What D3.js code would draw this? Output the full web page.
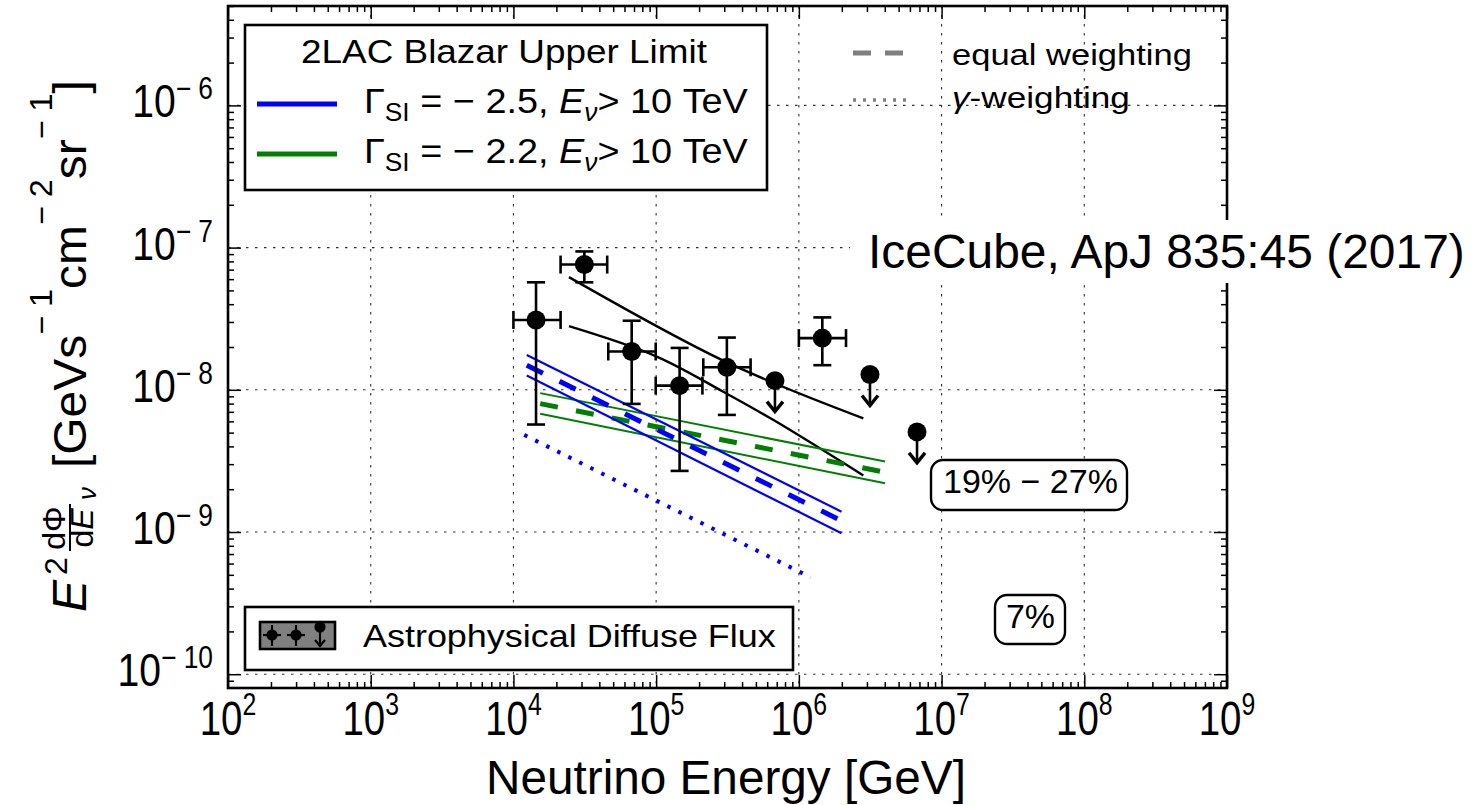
<!DOCTYPE html>
<html>
<head>
<meta charset="utf-8">
<script src="https://cdn.jsdelivr.net/npm/d3@7"></script>
<style>
  body { margin: 0; background: #fff; }
  svg text { font-family: "Liberation Sans", Arial, sans-serif; fill: #000; }
</style>
</head>
<body>
<svg id="chart" width="1477" height="805"></svg>
<script>
// ---- Astrophysical diffuse flux (unfolded bins) ----
const binCenters  = [1.44e4, 3.14e4, 6.74e4, 1.46e5, 3.13e5, 1.46e6];
const binLow      = [1.0e4, 2.14e4, 4.62e4, 9.93e4, 2.14e5, 1.0e6];
const binHigh     = [2.14e4, 4.54e4, 9.93e4, 2.11e5, 4.59e5, 2.14e6];
const fluxValues  = [3.1e-8, 7.6e-8, 1.86e-8, 1.07e-8, 1.44e-8, 2.31e-8];
const fluxErrLow  = [5.7e-9, 5.7e-8, 7.96e-9, 2.69e-9, 6.66e-9, 1.49e-8];
const fluxErrHigh = [5.7e-8, 9.4e-8, 3.06e-8, 1.97e-8, 2.33e-8, 3.23e-8];
const limitEnergies = [6.8e5, 3.15e6, 6.73e6];
const limitFluxes   = [1.16e-8, 1.28e-8, 5.06e-9];

// ---- best-fit power-law band edges ----
const fitBandUpper = [[2.45e4, 6.2e-8], [3.09e5, 1.57e-8], [2.83e6, 6.3e-9]];
const fitBandLower = [[2.45e4, 2.8e-8], [1.0e5, 1.72e-8], [2.95e5, 9.7e-9], [6.6e5, 6.15e-9], [2.83e6, 2.5e-9]];

// ---- 2LAC blazar upper limits, spectral index -2.5 ----
const soft25Energy = [1.24e4, 1.99e6];
const soft25Upper  = [1.76e-8, 1.39e-9];
const soft25Equal  = [1.49e-8, 1.2e-9];
const soft25Lower  = [1.26e-8, 9.8e-10];
const soft25GammaEnergy = [1.19e4, 1.21e6];
const soft25Gamma       = [4.82e-9, 4.8e-10];

// ---- 2LAC blazar upper limits, spectral index -2.2 ----
const hard22Energy = [1.54e4, 4.02e6];
const hard22Upper  = [9.48e-9, 3.13e-9];
const hard22Equal  = [8.0e-9, 2.63e-9];
const hard22Lower  = [6.78e-9, 2.2e-9];

// ---- axis ticks ----
const xTickValues = [1e2, 1e3, 1e4, 1e5, 1e6, 1e7, 1e8, 1e9];
const xTickExps   = ["2", "3", "4", "5", "6", "7", "8", "9"];
const yTickValues = [1e-10, 1e-9, 1e-8, 1e-7, 1e-6];
const yTickExps   = ["10", "9", "8", "7", "6"];

const svg = d3.select("#chart");
const x = d3.scaleLog().domain([1e2, 1e9]).range([228, 1227]);
const y = d3.scaleLog().domain([8e-11, 5e-6]).range([688, 6]);
const [X0, X1] = x.range();
const [Y1, Y0] = y.range();

// squeeze a text element horizontally (about its anchor) to a given width
function fitWidth(sel, width) {
  const w = sel.node().getBBox().width;
  sel.attr("transform", `scale(${width / w},1)`);
}

svg.append("defs").append("clipPath").attr("id", "plot-clip")
  .append("rect").attr("x", X0).attr("y", Y0).attr("width", X1 - X0).attr("height", Y1 - Y0);

// ---- grid ----
const grid = svg.append("g").attr("stroke", "#333").attr("stroke-width", 1.1).attr("stroke-dasharray", "2.5,6.5");
grid.selectAll("line.gx").data(xTickValues.slice(1, -1)).join("line").attr("class", "gx")
  .attr("x1", d => x(d)).attr("x2", d => x(d)).attr("y1", Y0).attr("y2", Y1);
grid.selectAll("line.gy").data(yTickValues).join("line").attr("class", "gy")
  .attr("y1", d => y(d)).attr("y2", d => y(d)).attr("x1", X0).attr("x2", X1);

// ---- ticks on all four sides, pointing inward ----
const minorX = [];
for (let e = 2; e < 9; e++) for (let k = 2; k < 10; k++) minorX.push(k * Math.pow(10, e));
const minorY = [];
for (let e = -11; e < -5; e++) for (let k = 2; k < 10; k++) {
  const v = k * Math.pow(10, e);
  if (v > 8e-11 && v < 5e-6) minorY.push(v);
}
function tickAxis(gen, scale, values, size, tr) {
  const g = svg.append("g").attr("transform", tr)
    .call(gen(scale).tickValues(values).tickSize(-size).tickSizeOuter(0).tickFormat(""));
  g.select(".domain").remove();
  g.selectAll("line").attr("stroke", "#000").attr("stroke-width", 1.5);
}
tickAxis(d3.axisBottom, x, xTickValues, 13, `translate(0,${Y1})`);
tickAxis(d3.axisBottom, x, minorX, 6, `translate(0,${Y1})`);
tickAxis(d3.axisTop, x, xTickValues, 13, `translate(0,${Y0})`);
tickAxis(d3.axisTop, x, minorX, 6, `translate(0,${Y0})`);
tickAxis(d3.axisLeft, y, yTickValues, 13, `translate(${X0},0)`);
tickAxis(d3.axisLeft, y, minorY, 6, `translate(${X0},0)`);
tickAxis(d3.axisRight, y, yTickValues, 13, `translate(${X1},0)`);
tickAxis(d3.axisRight, y, minorY, 6, `translate(${X1},0)`);

// ---- curves ----
const plot = svg.append("g").attr("clip-path", "url(#plot-clip)");
const line = d3.line().x(d => x(d[0])).y(d => y(d[1]));
const smooth = d3.line().x(d => x(d[0])).y(d => y(d[1])).curve(d3.curveCatmullRom.alpha(0.5));

function drawLine(pts, color, width, dash, gen) {
  plot.append("path").attr("d", (gen || line)(pts)).attr("fill", "none")
    .attr("stroke", color).attr("stroke-width", width)
    .attr("stroke-dasharray", dash || null);
}
const BLUE = "#0000ff", GREEN = "#008000";
drawLine(fitBandUpper, "#000", 2.4, null, smooth);
drawLine(fitBandLower, "#000", 2.4, null, smooth);

drawLine(d3.zip(hard22Energy, hard22Upper), GREEN, 2);
drawLine(d3.zip(hard22Energy, hard22Lower), GREEN, 2);
drawLine(d3.zip(hard22Energy, hard22Equal), GREEN, 5, "18,18.5");

drawLine(d3.zip(soft25Energy, soft25Upper), BLUE, 2.2);
drawLine(d3.zip(soft25Energy, soft25Lower), BLUE, 2.2);
drawLine(d3.zip(soft25Energy, soft25Equal), BLUE, 5, "18,18.5");
drawLine(d3.zip(soft25GammaEnergy, soft25Gamma), BLUE, 4, "3.5,8.8");

// ---- flux points with error bars ----
const pts = svg.append("g").attr("stroke", "#000").attr("stroke-width", 2.6);
binCenters.forEach((e, i) => {
  const cx = x(e), cy = y(fluxValues[i]);
  const yl = y(fluxErrLow[i]), yh = y(fluxErrHigh[i]);
  const xl = x(binLow[i]), xh = x(binHigh[i]);
  pts.append("line").attr("x1", cx).attr("x2", cx).attr("y1", yh).attr("y2", yl);
  pts.append("line").attr("x1", cx - 9).attr("x2", cx + 9).attr("y1", yh).attr("y2", yh);
  pts.append("line").attr("x1", cx - 9).attr("x2", cx + 9).attr("y1", yl).attr("y2", yl);
  pts.append("line").attr("x1", xl).attr("x2", xh).attr("y1", cy).attr("y2", cy);
  pts.append("line").attr("x1", xl).attr("x2", xl).attr("y1", cy - 9).attr("y2", cy + 9);
  pts.append("line").attr("x1", xh).attr("x2", xh).attr("y1", cy - 9).attr("y2", cy + 9);
  pts.append("circle").attr("cx", cx).attr("cy", cy).attr("r", 9.5).attr("fill", "#000").attr("stroke", "none");
});
limitEnergies.forEach((e, i) => {
  const cx = x(e), cy = y(limitFluxes[i]), tip = cy + 31;
  pts.append("line").attr("x1", cx).attr("x2", cx).attr("y1", cy).attr("y2", tip - 1);
  pts.append("path").attr("d", `M${cx - 8},${tip - 10}L${cx},${tip}L${cx + 8},${tip - 10}`)
    .attr("fill", "none").attr("stroke-width", 3.4).attr("stroke-linejoin", "miter");
  pts.append("circle").attr("cx", cx).attr("cy", cy).attr("r", 9.5).attr("fill", "#000").attr("stroke", "none");
});

// ---- frame ----
svg.append("rect").attr("x", X0).attr("y", Y0).attr("width", X1 - X0).attr("height", Y1 - Y0)
  .attr("fill", "none").attr("stroke", "#000").attr("stroke-width", 2.6);

// ---- tick labels ----
xTickValues.forEach((v, i) => {
  const g = svg.append("g").attr("transform", `translate(${x(v)},735)`);
  const t = g.append("text").attr("text-anchor", "middle").attr("font-size", 48);
  t.append("tspan").text("10");
  t.append("tspan").attr("font-size", 31).attr("dy", -20).text(xTickExps[i]);
  t.attr("transform", "scale(0.8,1)");
});
yTickValues.forEach((v, i) => {
  const g = svg.append("g").attr("transform", `translate(213,${y(v) + 12})`);
  const t = g.append("text").attr("text-anchor", "end").attr("font-size", 46);
  t.append("tspan").text("10");
  t.append("tspan").attr("font-size", 31).attr("dy", -18).text("\u2212 " + yTickExps[i]);
  t.attr("transform", "scale(0.85,1)");
});

// ---- axis titles ----
{
  const g = svg.append("g").attr("transform", "translate(486,794)");
  const t = g.append("text").attr("font-size", 48).text("Neutrino Energy [GeV]");
  fitWidth(t, 480);
}
{
  // rotated y title: E^2 dΦ/dE_ν [GeV s^-1 cm^-2 sr^-1]
  const g = svg.append("g").attr("transform", "translate(86,612) rotate(-90)");
  g.append("text").attr("font-size", 48).attr("font-style", "italic").text("E");
  g.append("text").attr("x", 37).attr("y", -19).attr("font-size", 32).text("2");
  g.append("text").attr("x", 84).attr("y", -21).attr("font-size", 32).attr("text-anchor", "middle").text("d\u03A6");
  g.append("line").attr("x1", 61).attr("x2", 108).attr("y1", -16).attr("y2", -16).attr("stroke", "#000").attr("stroke-width", 2);
  const den = g.append("text").attr("x", 84).attr("y", 7).attr("font-size", 32).attr("text-anchor", "middle");
  den.append("tspan").text("d");
  den.append("tspan").attr("font-style", "italic").text("E");
  g.append("text").attr("x", 112).attr("y", 10).attr("font-size", 26).attr("font-style", "italic").text("\u03BD");
  const mg = g.append("g").attr("transform", "translate(144,0)");
  const m = mg.append("text").attr("font-size", 46);
  m.append("tspan").text("[GeVs");
  m.append("tspan").attr("font-size", 31).attr("dy", -34).text("\u2212 1");
  m.append("tspan").attr("dy", 34).text("cm");
  m.append("tspan").attr("font-size", 31).attr("dy", -34).text("\u2212 2");
  m.append("tspan").attr("dy", 34).text("sr");
  m.append("tspan").attr("font-size", 31).attr("dy", -34).text("\u2212 1");
  m.append("tspan").attr("dy", 34).text("]");
  fitWidth(m, 388);
}

// ---- legend: 2LAC blazar upper limit ----
{
  svg.append("rect").attr("x", 245).attr("y", 25).attr("width", 522).attr("height", 165)
    .attr("fill", "#fff").attr("stroke", "#000").attr("stroke-width", 2.6);
  const tg = svg.append("g").attr("transform", "translate(301,63)");
  fitWidth(tg.append("text").attr("font-size", 33).text("2LAC Blazar Upper Limit"), 406);
  const entries = [{ c: BLUE, y: 104, idx: "2.5" }, { c: GREEN, y: 154, idx: "2.2" }];
  entries.forEach(en => {
    svg.append("line").attr("x1", 257).attr("x2", 337).attr("y1", en.y).attr("y2", en.y)
      .attr("stroke", en.c).attr("stroke-width", 5);
    const g = svg.append("g").attr("transform", `translate(364,${en.y + 9})`);
    const t = g.append("text").attr("font-size", 36);
    t.append("tspan").text("\u0393");
    t.append("tspan").attr("font-size", 25).attr("dy", 8).text("SI");
    t.append("tspan").attr("dy", -8).text(" = \u2212 " + en.idx + ", ");
    t.append("tspan").attr("font-style", "italic").text("E");
    t.append("tspan").attr("font-size", 25).attr("font-style", "italic").attr("dy", 8).text("\u03BD");
    t.append("tspan").attr("dy", -8).text("> 10 TeV");
    fitWidth(t, 384);
  });
}

// ---- legend: weighting schemes ----
{
  svg.append("line").attr("x1", 853).attr("x2", 903).attr("y1", 53).attr("y2", 53)
    .attr("stroke", "#808080").attr("stroke-width", 5).attr("stroke-dasharray", "18,14");
  svg.append("line").attr("x1", 853).attr("x2", 910).attr("y1", 100).attr("y2", 100)
    .attr("stroke", "#808080").attr("stroke-width", 3.5).attr("stroke-dasharray", "3,7");
  const g1 = svg.append("g").attr("transform", "translate(952,65)");
  fitWidth(g1.append("text").attr("font-size", 30).text("equal weighting"), 240);
  const g2 = svg.append("g").attr("transform", "translate(952,108)");
  const t2 = g2.append("text").attr("font-size", 30);
  t2.append("tspan").attr("font-style", "italic").text("\u03B3");
  t2.append("tspan").text("-weighting");
  fitWidth(t2, 178);
}

// ---- legend: astrophysical diffuse flux ----
{
  svg.append("rect").attr("x", 245).attr("y", 607).attr("width", 548).attr("height", 63)
    .attr("fill", "#fff").attr("stroke", "#000").attr("stroke-width", 2.6);
  svg.append("rect").attr("x", 260).attr("y", 622).attr("width", 75).attr("height", 27)
    .attr("fill", "#808080").attr("stroke", "#000").attr("stroke-width", 2.6);
  const ig = svg.append("g").attr("stroke", "#000").attr("stroke-width", 2.2);
  [272, 296].forEach(cx => {
    ig.append("line").attr("x1", cx - 9).attr("x2", cx + 9).attr("y1", 635).attr("y2", 635);
    ig.append("line").attr("x1", cx).attr("x2", cx).attr("y1", 625).attr("y2", 646);
    ig.append("circle").attr("cx", cx).attr("cy", 635).attr("r", 4.5).attr("fill", "#000");
  });
  ig.append("line").attr("x1", 320).attr("x2", 320).attr("y1", 627).attr("y2", 646);
  ig.append("path").attr("d", "M315,640L320,646L325,640").attr("fill", "none");
  ig.append("circle").attr("cx", 320).attr("cy", 627).attr("r", 4.5).attr("fill", "#000");
  const g = svg.append("g").attr("transform", "translate(363,647)");
  fitWidth(g.append("text").attr("font-size", 32).text("Astrophysical Diffuse Flux"), 413);
}

// ---- fraction annotations ----
function boxedLabel(x0, y0, w, h, tx, ty, tw, label) {
  svg.append("rect").attr("x", x0).attr("y", y0).attr("width", w).attr("height", h)
    .attr("rx", 12).attr("ry", 12).attr("fill", "#fff").attr("stroke", "#000").attr("stroke-width", 2.4);
  const g = svg.append("g").attr("transform", `translate(${tx},${ty})`);
  fitWidth(g.append("text").attr("font-size", 34).text(label), tw);
}
boxedLabel(931, 460, 196, 50, 943, 493, 175, "19% \u2212 27%");
boxedLabel(995, 595, 70, 49, 1006, 628, 49, "7%");

// ---- reference ----
svg.append("rect").attr("x", 850).attr("y", 220).attr("width", 627).attr("height", 63).attr("fill", "#fff");
{
  const g = svg.append("g").attr("transform", "translate(868,268)");
  fitWidth(g.append("text").attr("font-size", 48).text("IceCube, ApJ 835:45 (2017)"), 597);
}
</script>
</body>
</html>
